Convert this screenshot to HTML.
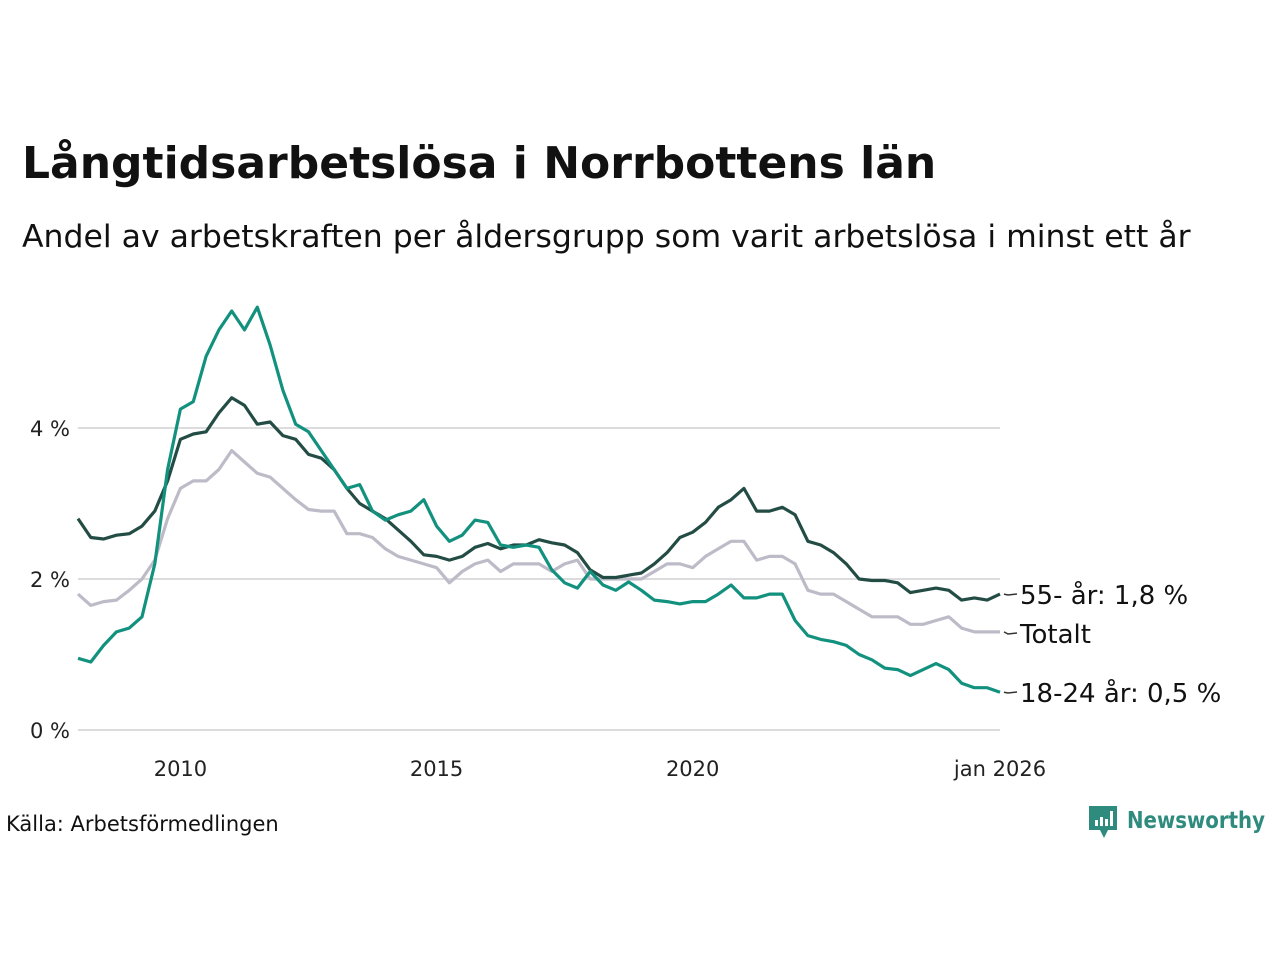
<!DOCTYPE html>
<html><head><meta charset="utf-8">
<style>
body{margin:0;background:#fff;width:1280px;height:960px;overflow:hidden;font-family:"Liberation Sans","DejaVu Sans",sans-serif;}
</style></head>
<body>
<svg id="chart" width="1280" height="960" xmlns="http://www.w3.org/2000/svg" font-family="'DejaVu Sans','Liberation Sans',sans-serif">
<text x="22" y="178" font-size="44" font-weight="bold" fill="#111">Långtidsarbetslösa i Norrbottens län</text>
<text x="22" y="247" font-size="31.5" fill="#111">Andel av arbetskraften per åldersgrupp som varit arbetslösa i minst ett år</text>
<g id="grid"></g>
<g id="lines"></g>
<g id="labels"></g>
<text x="6" y="831" font-size="21" fill="#111">Källa: Arbetsförmedlingen</text>
<g>
<path d="M1089 806h28v24h-9l-4 8-4-8h-11z" fill="#2e8b7e"/>
<rect x="1095" y="820" width="3" height="6" fill="#fff"/><rect x="1100" y="817" width="3" height="9" fill="#fff"/><rect x="1105" y="819" width="3" height="7" fill="#fff"/><rect x="1110" y="811" width="3" height="15" fill="#fff"/>
<text x="1127" y="828" font-size="23" font-weight="bold" textLength="138" lengthAdjust="spacingAndGlyphs" fill="#2e8b7e">Newsworthy</text>
</g>
</svg>
<script>
const startYear = 2008;
const stepYears = 0.25;
const yTicks = [0, 2, 4];
const yTickLabels = ["0 %", "2 %", "4 %"];
const xTicks = [2010, 2015, 2020, 2026];
const xTickLabels = ["2010", "2015", "2020", "jan 2026"];
const youth = [0.95,0.9,1.12,1.3,1.35,1.5,2.2,3.45,4.25,4.35,4.95,5.3,5.55,5.3,5.6,5.1,4.5,4.05,3.95,3.7,3.45,3.2,3.25,2.9,2.78,2.85,2.9,3.05,2.7,2.5,2.58,2.78,2.75,2.45,2.42,2.45,2.42,2.12,1.95,1.88,2.1,1.92,1.85,1.96,1.85,1.72,1.7,1.67,1.7,1.7,1.8,1.92,1.75,1.75,1.8,1.8,1.45,1.25,1.2,1.17,1.12,1.0,0.93,0.82,0.8,0.72,0.8,0.88,0.8,0.62,0.56,0.56,0.5];
const older = [2.8,2.55,2.53,2.58,2.6,2.7,2.9,3.3,3.85,3.92,3.95,4.2,4.4,4.3,4.05,4.08,3.9,3.85,3.65,3.6,3.45,3.2,3.0,2.9,2.8,2.65,2.5,2.32,2.3,2.25,2.3,2.42,2.47,2.4,2.45,2.45,2.52,2.48,2.45,2.35,2.12,2.02,2.02,2.05,2.08,2.2,2.35,2.55,2.62,2.75,2.95,3.05,3.2,2.9,2.9,2.95,2.85,2.5,2.45,2.35,2.2,2.0,1.98,1.98,1.95,1.82,1.85,1.88,1.85,1.72,1.75,1.72,1.8];
const total = [1.8,1.65,1.7,1.72,1.85,2.0,2.25,2.8,3.2,3.3,3.3,3.45,3.7,3.55,3.4,3.35,3.2,3.05,2.92,2.9,2.9,2.6,2.6,2.55,2.4,2.3,2.25,2.2,2.15,1.95,2.1,2.2,2.25,2.1,2.2,2.2,2.2,2.1,2.2,2.25,2.0,2.0,2.0,2.0,2.0,2.1,2.2,2.2,2.15,2.3,2.4,2.5,2.5,2.25,2.3,2.3,2.2,1.85,1.8,1.8,1.7,1.6,1.5,1.5,1.5,1.4,1.4,1.45,1.5,1.35,1.3,1.3,1.3];
const seriesNames = ["Totalt", "55- år: 1,8 %", "18-24 år: 0,5 %"];

const NS = "http://www.w3.org/2000/svg";
const X0 = 78, X1 = 1000, Y0 = 730, PPY = 75.5;
const xScale = t => X0 + (t - startYear) / (2026 - startYear) * (X1 - X0);
const yScale = v => Y0 - v * PPY;
function mk(tag, attrs, parent){const e=document.createElementNS(NS,tag);for(const k in attrs)e.setAttribute(k,attrs[k]);parent.appendChild(e);return e;}
const grid=document.getElementById('grid'), lines=document.getElementById('lines'), labels=document.getElementById('labels');
yTicks.forEach((v,i)=>{
  const l=mk('line',{x1:78,x2:1000,y1:yScale(v),y2:yScale(v),stroke:'#dcdcdf','stroke-width':2},grid);
  
  
  const t=mk('text',{x:70,y:yScale(v)+8,'text-anchor':'end','font-size':21,fill:'#222'},grid);
  
  
  t.textContent=yTickLabels[i];
});
xTicks.forEach((v,i)=>{
  const t=mk('text',{x:xScale(v),y:776,'text-anchor':'middle','font-size':21,fill:'#222'},grid);
  
  
  t.textContent=xTickLabels[i];
});
const defs=[[total,'#bdbbc8','series-total',0],[older,'#234d44','series-55-plus',1],[youth,'#13917f','series-18-24',2]];
const labelY=[634,595,693];
defs.forEach(([arr,col,name,idx])=>{
  const d=arr.map((v,i)=>(i?'L':'M')+xScale(startYear+i*stepYears).toFixed(1)+' '+yScale(v).toFixed(1)).join(' ');
  const p=mk('path',{d:d,fill:'none',stroke:col,'stroke-width':3.2,'stroke-linejoin':'round'},lines);
  
  
  const ly=labelY[idx];
  const ey=yScale(arr[arr.length-1]);
  const c=mk('polyline',{points:`1004,${ey} 1008,${ly} 1017,${ly-1}`,fill:'none',stroke:'#333','stroke-width':1.5},labels);
  
  
  const t=mk('text',{x:1020,y:ly+9,'font-size':26,fill:'#111'},labels);
  
  
  t.textContent=seriesNames[idx];
});
</script>
</body></html>
